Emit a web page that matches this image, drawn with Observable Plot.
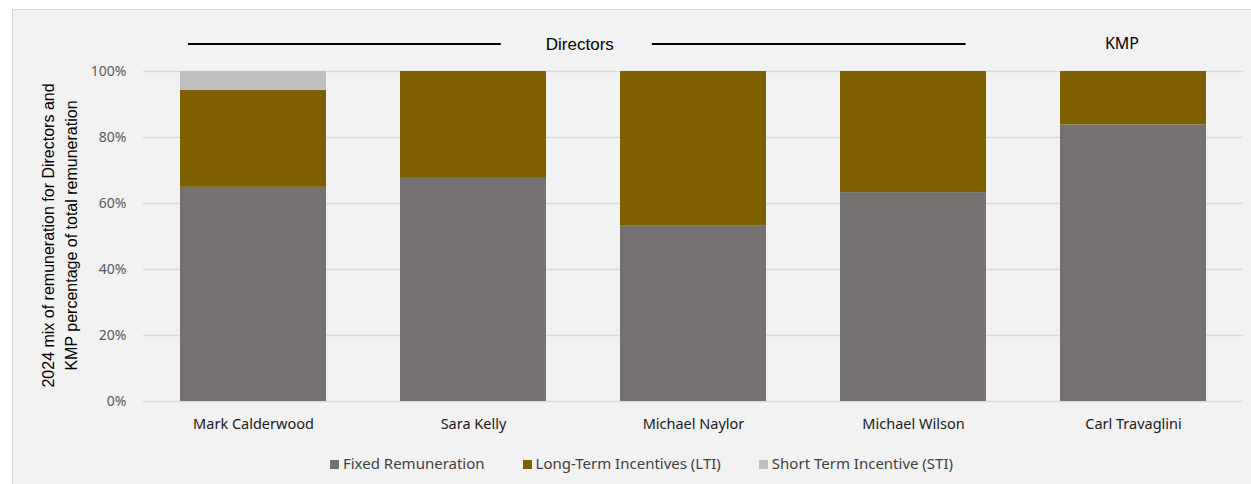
<!DOCTYPE html>
<html><head><meta charset="utf-8">
<script src="https://cdn.jsdelivr.net/npm/d3@7"></script>
<script src="https://cdn.jsdelivr.net/npm/@observablehq/plot@0.6"></script>
<style>
body{margin:0;background:#fff;width:1251px;height:484px;overflow:hidden;position:relative;font-family:"Liberation Sans",Arial,sans-serif}
#frame{position:absolute;left:12px;top:9px;width:1240px;height:480px;background:#f2f2f2;border:1px solid #d9d9d9;box-sizing:border-box}
#chart{position:absolute;left:0;top:0}
#legend{position:absolute;top:453px;left:0;width:1251px;display:flex;justify-content:center;gap:38px;font-family:"Noto Sans",sans-serif;font-size:15px;color:#404040;padding-left:32px;box-sizing:border-box}
#legend span.sw{display:inline-block;width:9px;height:9px;margin-right:4px;vertical-align:0px}
</style></head>
<body>
<div id="frame"></div>
<div id="chart"></div>
<div id="legend"></div>
<script>
const people = ["Mark Calderwood","Sara Kelly","Michael Naylor","Michael Wilson","Carl Travaglini"];
const series = ["Fixed Remuneration","Long-Term Incentives (LTI)","Short Term Incentive (STI)"];
const colors = ["#767171","#7f6000","#bfbfbf"];
const fixed = [64.9, 67.6, 53.3, 63.3, 83.8];
const lti   = [29.4, 32.4, 46.7, 36.7, 16.2];
const sti   = [5.7, 0, 0, 0, 0];
const yTicks = [0,20,40,60,80,100];
const groups = [
  {label:"Directors", from:"Mark Calderwood", to:"Michael Wilson", line:true},
  {label:"KMP", from:"Carl Travaglini", to:"Carl Travaglini", line:false}
];
const yLabel = "2024 mix of remuneration for Directors and\nKMP percentage of total remuneration";

const data = [];
people.forEach((p,i)=>{
  [fixed,lti,sti].forEach((arr,j)=>{ if(arr[i]>0) data.push({person:p, series:series[j], value:arr[i]}); });
});

const groupMark = (index, scales, values, dims) => {
  const g = d3.create("svg:g");
  const bw = scales.x.bandwidth ? scales.x.bandwidth() : 146;
  const yy = scales.y(100) - 27;
  for (const gr of groups) {
    const x0 = scales.x(gr.from), x1 = scales.x(gr.to) + bw;
    const cx = (x0 + x1) / 2;
    if (gr.line) {
      const a = x0 + bw*0.055, b = x1 - bw*0.14;
      const mid = (a + b) / 2;
      g.append("line").attr("x1",a).attr("x2",mid-76).attr("y1",yy).attr("y2",yy).attr("stroke","#000").attr("stroke-width",2.2);
      g.append("line").attr("x1",mid+75).attr("x2",b).attr("y1",yy).attr("y2",yy).attr("stroke","#000").attr("stroke-width",2.2);
      g.append("text").attr("x",mid+3).attr("y",yy).attr("dy","0.36em").attr("text-anchor","middle")
        .attr("font-family","Liberation Sans, Arial, sans-serif").attr("font-size",17).attr("fill","#000").text(gr.label);
    } else {
      g.append("text").attr("x",cx-11).attr("y",yy-1).attr("dy","0.36em").attr("text-anchor","middle")
        .attr("font-family","Noto Sans, sans-serif").attr("font-size",16).attr("fill","#000").text(gr.label);
    }
  }
  return g.node();
};

const chart = Plot.plot({
  width: 1251,
  height: 440,
  marginLeft: 143,
  marginRight: 8,
  marginTop: 71,
  marginBottom: 39,
  style: {background:"transparent", fontFamily:"Noto Sans, sans-serif", fontSize:"14px", color:"#404040"},
  x: {domain: people, paddingInner: 0.336, paddingOuter: 0.168, label: null},
  y: {domain: [0,100], label: null},
  color: {domain: series, range: colors},
  marks: [
    Plot.ruleY(yTicks, {stroke:"#d9d9d9", strokeWidth:1.5}),
    Plot.barY(data, {x:"person", y:"value", fill:"series", order: series, inset:0}),
    Plot.axisY({ticks: yTicks, tickFormat: d => d + "%", tickSize: 0, tickPadding: 17, fontSize: 14, fill:"#595959", label:null}),
    Plot.axisX({tickSize: 0, tickPadding: 17, fontSize: 14.5, fill:"#202020", label:null}),
    Plot.text([yLabel], {frameAnchor:"left", text: d => d, rotate:-90, dx:-85, dy:-1, textAnchor:"middle", lineAnchor:"middle", lineHeight:1.4, fontSize:16, fill:"#000", fontFamily:"Liberation Sans, Arial, sans-serif"}),
    groupMark
  ]
});
document.getElementById("chart").appendChild(chart);

const leg = document.getElementById("legend");
series.forEach((s,i)=>{
  const item = document.createElement("div");
  const sw = document.createElement("span"); sw.className="sw"; sw.style.background = colors[i];
  item.appendChild(sw);
  item.appendChild(document.createTextNode(s));
  leg.appendChild(item);
});
</script>
</body></html>
